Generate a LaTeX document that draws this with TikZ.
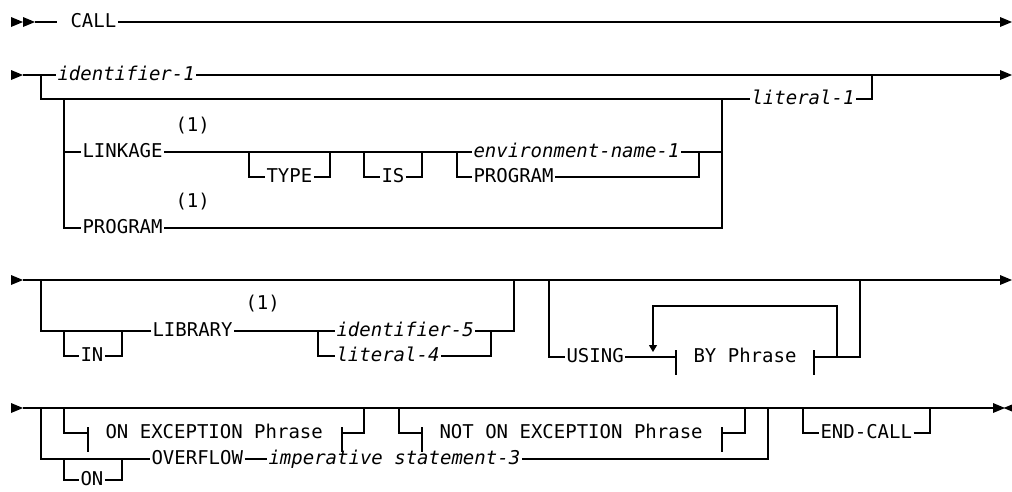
\documentclass[tikz,border=0pt]{standalone}
\usepackage{fontspec}
\setmonofont{DejaVu Sans Mono}
\usetikzlibrary{arrows.meta}
\newcommand\railfont{\ttfamily\fontsize{19}{22}\selectfont}

\begin{document}
\begin{tikzpicture}[x=1pt, y=-1pt, line width=1.1pt,
  every node/.style={inner xsep=1pt, inner ysep=0pt, text height=14pt, text depth=2.8pt, anchor=west, font=\railfont},
  var/.style={font=\railfont\itshape},
  railtip/.pic={\fill (0,-5) -- (12,0) -- (0,5) -- cycle;},
  loopback/.style={-{Triangle[length=7pt,width=8pt]}}]
  \useasboundingbox (0,0) rectangle (1012,491);

  % Row 1: CALL
  \pic at (11,22) {railtip};
  \pic at (23,22) {railtip};
  \coordinate (r1a) at (35,22);
  \coordinate (r1b) at (57,22);
  \coordinate (r1e) at (1000,22);
  \node (call) at (69,22) {CALL};
  \draw (r1a) -- (r1b);
  \draw (call.east) -- (r1e);
  \pic at (r1e) {railtip};

  % Row 2: identifier-1 or literal-1
  \pic at (11,75) {railtip};
  \coordinate (r2s) at (23,75);
  \coordinate (r2e) at (1000,75);
  \node[var] (id1) at (56,75) {identifier-1};
  \draw (r2s) -- (id1.west);
  \draw (id1.east) -- (r2e);
  \pic at (r2e) {railtip};
  \node[var] (lit1) at (750,99) {literal-1};
  \draw (41,75) |- (lit1.west);
  \draw (lit1.east) -| (872,75);

  % LINKAGE / PROGRAM choice in front of literal-1
  \node (lnk) at (81,152) {LINKAGE};
  \node (lnkn) at (174,126) {(1)};
  \node (type) at (265,177) {TYPE};
  \node (is) at (380,177) {IS};
  \node[var] (env1) at (472,152) {environment-name-1};
  \node (prg2) at (472,177) {PROGRAM};
  \node (prg) at (81,228) {PROGRAM};
  \node (prgn) at (174,202) {(1)};
  \draw (64,99) |- (prg.west);
  \draw (64,152) -- (lnk.west);
  \draw (lnk.east) -- (env1.west);
  \draw (env1.east) -- (722,152);
  \draw (249,152) |- (type.west);
  \draw (type.east) -| (330,152);
  \draw (364,152) |- (is.west);
  \draw (is.east) -| (422,152);
  \draw (457,152) |- (prg2.west);
  \draw (prg2.east) -| (699,152);
  \draw (prg.east) -| (722,99);

  % Row 3: LIBRARY
  \pic at (11,280) {railtip};
  \coordinate (r3s) at (23,280);
  \coordinate (r3e) at (1000,280);
  \draw (r3s) -- (r3e);
  \pic at (r3e) {railtip};
  \node (in) at (79,356) {IN};
  \node (lib) at (151,331) {LIBRARY};
  \node (libn) at (244,304) {(1)};
  \node[var] (id5) at (335,331) {identifier-5};
  \node[var] (lit4) at (335,356) {literal-4};
  \draw (41,280) |- (lib.west);
  \draw (64,331) |- (in.west);
  \draw (in.east) -| (122,331);
  \draw (lib.east) -- (id5.west);
  \draw (id5.east) -| (514,280);
  \draw (318,331) |- (lit4.west);
  \draw (lit4.east) -| (491,331);

  % USING with repeated BY Phrase
  \node (using) at (565,357) {USING};
  \node (byph) at (692,357) {BY Phrase};
  \draw (549,280) |- (using.west);
  \draw (using.east) -- (676,357);
  \draw (676,350) -- (676,375);
  \draw (814,350) -- (814,375);
  \draw (814,357) -| (860,280);
  \draw[loopback] (837,357) |- (653,306) -- (653,352);

  % Row 4: exception phrases and END-CALL
  \pic at (11,408) {railtip};
  \coordinate (r4s) at (23,408);
  \coordinate (r4e) at (993,408);
  \draw (r4s) -- (r4e);
  \pic at (r4e) {railtip};
  \pic[xscale=-0.7, yscale=0.7] at (1012,408) {railtip};
  \node (onex) at (104,433) {ON EXCEPTION Phrase};
  \node (notex) at (438,433) {NOT ON EXCEPTION Phrase};
  \node[text height=11.2pt, text depth=0pt] (on) at (79,480) {ON};
  \node (ovf) at (150,459) {OVERFLOW};
  \node[var] (imp) at (267,459) {imperative statement-3};
  \node (endc) at (819,433) {END-CALL};
  \draw (41,408) |- (ovf.west);
  \draw (64,459) |- (on.west);
  \draw (on.east) -| (122,459);
  \draw (ovf.east) -- (imp.west);
  \draw (imp.east) -| (768,408);
  \draw (64,408) |- (88,433);
  \draw (88,427) -- (88,452);
  \draw (342,427) -- (342,452);
  \draw (342,433) -| (364,408);
  \draw (399,408) |- (422,433);
  \draw (422,427) -- (422,452);
  \draw (722,427) -- (722,452);
  \draw (722,433) -| (745,408);
  \draw (803,408) |- (endc.west);
  \draw (endc.east) -| (930,408);
\end{tikzpicture}
\end{document}
